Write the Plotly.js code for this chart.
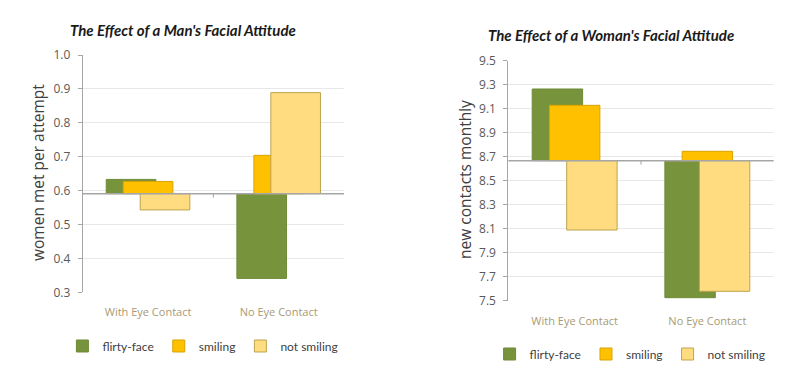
<!DOCTYPE html>
<html>
<head>
<meta charset="utf-8">
<script src="https://cdn.plot.ly/plotly-3.0.1.min.js"></script>
<style>html,body{margin:0;padding:0;background:#fff;}#chart{width:800px;height:376px;}</style>
</head>
<body>
<div id="chart"></div>
<script>
// ---- data ----
const categories = ['With Eye Contact', 'No Eye Contact'];
const seriesNames = ['flirty-face', 'smiling', 'not smiling'];

// Left chart: The Effect of a Man's Facial Attitude (women met per attempt)
const manBaseline = 0.591;
const manFlirty = [0.633, 0.341];
const manSmiling = [0.627, 0.704];
const manNotSmiling = [0.543, 0.889];

// Right chart: The Effect of a Woman's Facial Attitude (new contacts monthly)
const womanBaseline = 8.667;
const womanFlirty = [9.264, 7.525];
const womanSmiling = [9.128, 8.745];
const womanNotSmiling = [8.089, 7.578];

const manTicks = [0.3, 0.4, 0.5, 0.6, 0.7, 0.8, 0.9, 1.0];
const womanTicks = [7.5, 7.7, 7.9, 8.1, 8.3, 8.5, 8.7, 8.9, 9.1, 9.3, 9.5];

// ---- styles ----
const fills = ['#77933C', '#FFC000', '#FFDC80'];
const edges = ['#6f8a37', '#D9A400', '#BFA34F'];
const barWidth = 0.38;
const barOffsets = [-0.32, -0.19, -0.06];

function makeBars(valuesList, baseline, xa, ya, legendId) {
  return valuesList.map((vals, i) => ({
    type: 'bar',
    name: seriesNames[i],
    x: categories,
    y: vals.map(v => v - baseline),
    base: baseline,
    width: barWidth,
    offset: barOffsets[i],
    xaxis: xa, yaxis: ya,
    legend: legendId,
    marker: {color: fills[i], line: {color: edges[i], width: 1}},
    hoverinfo: 'skip'
  }));
}

const traces = [
  ...makeBars([manFlirty, manSmiling, manNotSmiling], manBaseline, 'x', 'y', 'legend'),
  ...makeBars([womanFlirty, womanSmiling, womanNotSmiling], womanBaseline, 'x2', 'y2', 'legend2')
];

const tickFont = {family: 'Open Sans, sans-serif', size: 12, color: '#595959'};
const catFont = {family: 'Open Sans, sans-serif', size: 11, color: '#a89a74'};
const legFont = {family: 'Lato, sans-serif', size: 12, color: '#404040'};

function yax(domain, range, ticks) {
  return {
    domain: domain, range: range, tickvals: ticks,
    ticktext: ticks.map(t => t.toFixed(1)),
    showline: true, linecolor: '#a6a6a6', linewidth: 1,
    ticks: 'outside', ticklen: 4, tickcolor: '#a6a6a6',
    showgrid: true, gridcolor: '#e8e8e8', gridwidth: 1,
    zeroline: false, tickfont: tickFont, ticklabelstandoff: 5, fixedrange: true
  };
}
function xax(domain, anchor) {
  return {
    domain: domain, anchor: anchor, type: 'category', range: [-0.5, 1.5],
    showline: false, showgrid: false, zeroline: false, ticks: '',
    tickfont: catFont, ticklabelstandoff: 12, fixedrange: true
  };
}

const layout = {
  width: 800, height: 376,
  margin: {l: 0, r: 0, t: 0, b: 0},
  paper_bgcolor: '#ffffff', plot_bgcolor: 'rgba(0,0,0,0)',
  barmode: 'overlay',
  xaxis: xax([0.1034, 0.43], 'y'),
  yaxis: yax([0.2226, 0.8537], [0.3, 1.0], manTicks),
  xaxis2: xax([0.6354, 0.9671], 'y2'),
  yaxis2: Object.assign(yax([0.2003, 0.8386], [7.5, 9.5], womanTicks), {anchor: 'x2'}),
  showlegend: true,
  legend: {orientation: 'h', x: 0.078, y: 0.0798, xanchor: 'left', yanchor: 'middle',
           font: legFont, bgcolor: 'rgba(0,0,0,0)', itemwidth: 30, traceorder: 'normal'},
  legend2: {orientation: 'h', x: 0.612, y: 0.0585, xanchor: 'left', yanchor: 'middle',
            font: legFont, bgcolor: 'rgba(0,0,0,0)', itemwidth: 30, traceorder: 'normal'},
  annotations: [
    {text: "<b><i>The Effect of a Man's Facial Attitude</i></b>", xref: 'paper', yref: 'paper',
     x: 183/800, y: 1 - 30/376, xanchor: 'center', yanchor: 'middle', showarrow: false,
     font: {family: 'Lato, sans-serif', size: 15, color: '#1a1a1a'}},
    {text: "<b><i>The Effect of a Woman's Facial Attitude</i></b>", xref: 'paper', yref: 'paper',
     x: 611/800, y: 1 - 35/376, xanchor: 'center', yanchor: 'middle', showarrow: false,
     font: {family: 'Lato, sans-serif', size: 15, color: '#1a1a1a'}},
    {text: 'women met per attempt', xref: 'paper', yref: 'paper', textangle: -90,
     x: 38/800, y: 1 - 173/376, xanchor: 'center', yanchor: 'middle', showarrow: false,
     font: {family: 'Open Sans, sans-serif', size: 15.5, color: '#404040'}},
    {text: 'new contacts monthly', xref: 'paper', yref: 'paper', textangle: -90,
     x: 465/800, y: 1 - 180/376, xanchor: 'center', yanchor: 'middle', showarrow: false,
     font: {family: 'Open Sans, sans-serif', size: 15.5, color: '#404040'}}
  ],
  shapes: [
    {type: 'line', xref: 'x domain', yref: 'y', x0: 0, x1: 1, y0: manBaseline, y1: manBaseline,
     line: {color: '#a6a6a6', width: 1.5}, layer: 'above'},
    {type: 'line', xref: 'x', yref: 'y', ysizemode: 'pixel', yanchor: manBaseline,
     x0: 0.5, x1: 0.5, y0: 0, y1: -4, line: {color: '#a6a6a6', width: 1}},
    {type: 'line', xref: 'x2 domain', yref: 'y2', x0: 0, x1: 1, y0: womanBaseline, y1: womanBaseline,
     line: {color: '#a6a6a6', width: 1.5}, layer: 'above'},
    {type: 'line', xref: 'x2', yref: 'y2', ysizemode: 'pixel', yanchor: womanBaseline,
     x0: 0.5, x1: 0.5, y0: 0, y1: -4, line: {color: '#a6a6a6', width: 1}}
  ]
};

Plotly.newPlot('chart', traces, layout, {displayModeBar: false, staticPlot: true});
</script>
</body>
</html>
